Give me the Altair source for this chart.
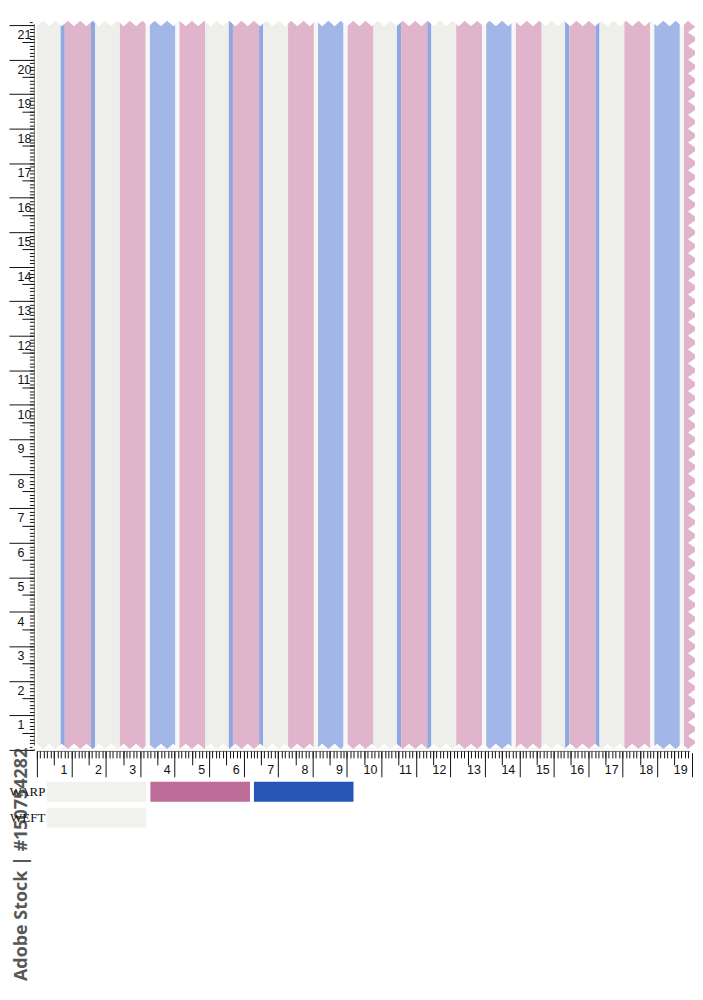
import altair as alt
import pandas as pd

# ---------------- data (centimetres) ----------------
# warp stripe sequence, left to right ("line" = thin blue pinstripe)
STRIPE_KIND = [
    "white",
    "line", "pink", "line", "white", "pink", "gap", "blue", "gap", "pink", "white",
    "line", "pink", "line", "white", "pink", "gap", "blue", "gap", "pink", "white",
    "line", "pink", "line", "white", "pink", "gap", "blue", "gap", "pink", "white",
    "line", "pink", "line", "white", "pink", "gap", "blue", "gap", "pink",
]
STRIPE_WIDTH_CM = [
    0.69,
    0.12, 0.76, 0.12, 0.72, 0.75, 0.12, 0.74, 0.12, 0.75, 0.68,
    0.12, 0.76, 0.12, 0.72, 0.75, 0.12, 0.74, 0.12, 0.75, 0.68,
    0.12, 0.76, 0.12, 0.72, 0.75, 0.12, 0.74, 0.12, 0.75, 0.68,
    0.12, 0.76, 0.12, 0.72, 0.75, 0.12, 0.74, 0.12, 0.40,
]
FABRIC_BOTTOM_CM = 0.03
FABRIC_TOP_CM = 21.12
RULER_X_MAX_CM = 19.1

X_TICKS_CM = list(range(0, 20))          # 0 .. 19
Y_TICKS_CM = list(range(0, 22))          # 0 .. 21
X_HALF_TICKS = [i + 0.5 for i in range(0, 19)]
Y_HALF_TICKS = [i + 0.5 for i in range(0, 21)]
X_MM_TICKS = [round(i / 10, 1) for i in range(0, 192)]
Y_MM_TICKS = [round(i / 10, 1) for i in range(0, 212)]

LEGEND_ROW = ["WARP", "WARP", "WARP", "WEFT"]
LEGEND_SLOT = [0, 1, 2, 0]
LEGEND_COLOR = ["#f1f2ee", "#bd6b97", "#2555b5", "#f1f2ee"]

WATERMARK = "Adobe Stock | #150754282"

# ---------------- styles ----------------
FABRIC_COLOR = {"white": "#eeeeeb", "gap": "#f7f7f5", "pink": "#e0b4cb",
                "blue": "#a2b7e7", "line": "#8fa8e2"}
FONT = "Liberation Sans"
W, H = 661, 732

edges = [0.0]
for w in STRIPE_WIDTH_CM:
    edges.append(edges[-1] + w)
stripes = pd.DataFrame({
    "x0": edges[:-1],
    "x1": edges[1:],
    "y0": FABRIC_BOTTOM_CM,
    "y1": FABRIC_TOP_CM,
    "color": [FABRIC_COLOR[k] for k in STRIPE_KIND],
})
fabric_right = edges[-1]

# pinked (zig-zag) edges of the swatch
top_teeth = pd.DataFrame({"x": [i * 0.36 for i in range(0, 54)], "y": FABRIC_TOP_CM})
bot_teeth = pd.DataFrame({"x": [i * 0.36 for i in range(0, 54)], "y": FABRIC_BOTTOM_CM})
right_teeth = pd.DataFrame({"x": fabric_right, "y": [i * 0.40 for i in range(0, 53)]})


def xs():
    return alt.Scale(domain=[0, RULER_X_MAX_CM], nice=False, zero=False)


def ys():
    return alt.Scale(domain=[0, FABRIC_TOP_CM], nice=False, zero=False)


anchor = pd.DataFrame({"x": [0.0], "y": [0.0]})


def x_axis(values, size, labels=False, domain=False):
    kw = dict(orient="bottom", values=values, tickSize=size, tickColor="#111", tickWidth=1,
              grid=False, title=None, offset=1, domain=domain, labels=labels)
    if domain:
        kw.update(domainColor="#777", domainWidth=1)
    if labels:
        kw.update(labelExpr="datum.value == 0 ? '' : datum.label", labelAlign="right",
                  labelBaseline="top", labelOffset=-4.5, labelPadding=-13, labelFont=FONT,
                  labelFontSize=12.5, labelColor="#111", labelFlush=False, labelOverlap=False)
    return alt.Axis(**kw)


def y_axis(values, size, labels=False, domain=False):
    kw = dict(orient="left", values=values, tickSize=size, tickColor="#111", tickWidth=1,
              grid=False, title=None, offset=3, domain=domain, labels=labels)
    if domain:
        kw.update(domainColor="#777", domainWidth=1)
    if labels:
        kw.update(labelExpr="datum.value == 0 ? '' : datum.label", labelAlign="left",
                  labelBaseline="top", labelOffset=3.5, labelPadding=-8, labelFont=FONT,
                  labelFontSize=12.5, labelColor="#111", labelFlush=False, labelOverlap=False)
    return alt.Axis(**kw)


cloth = alt.Chart(stripes).mark_rect(strokeWidth=0).encode(
    x=alt.X("x0:Q", scale=xs(), axis=x_axis(X_TICKS_CM, 26, labels=True, domain=True)),
    x2="x1:Q",
    y=alt.Y("y0:Q", scale=ys(), axis=y_axis(Y_TICKS_CM, 25, labels=True, domain=True)),
    y2="y1:Q",
    color=alt.Color("color:N", scale=None),
)

half_ax = alt.Chart(anchor).mark_point(opacity=0).encode(
    x=alt.X("x:Q", scale=xs(), axis=x_axis(X_HALF_TICKS, 14)),
    y=alt.Y("y:Q", scale=ys(), axis=y_axis(Y_HALF_TICKS, 12)),
)
mm_ax = alt.Chart(anchor).mark_point(opacity=0).encode(
    x=alt.X("x:Q", scale=xs(), axis=x_axis(X_MM_TICKS, 7)),
    y=alt.Y("y:Q", scale=ys(), axis=y_axis(Y_MM_TICKS, 4.5)),
)

tooth_style = dict(filled=True, color="white", opacity=1, strokeWidth=0)
top_z = alt.Chart(top_teeth).mark_point(shape="M-1,0L1,0L0,0.85Z", size=144, **tooth_style).encode(
    x=alt.X("x:Q", scale=xs(), axis=None), y=alt.Y("y:Q", scale=ys(), axis=None))
bot_z = alt.Chart(bot_teeth).mark_point(shape="M-1,0L1,0L0,-0.85Z", size=144, **tooth_style).encode(
    x=alt.X("x:Q", scale=xs(), axis=None), y=alt.Y("y:Q", scale=ys(), axis=None))
right_z = alt.Chart(right_teeth).mark_point(shape="M0,-1L0,1L-1.4,0Z", size=196, **tooth_style).encode(
    x=alt.X("x:Q", scale=xs(), axis=None), y=alt.Y("y:Q", scale=ys(), axis=None))

# yarn colour key below the ruler: its own band scales, placed under the swatch
legend_df = pd.DataFrame({"row": LEGEND_ROW, "slot": LEGEND_SLOT, "color": LEGEND_COLOR})
swatches = alt.Chart(legend_df).mark_rect(strokeWidth=0).encode(
    x=alt.X("slot:O", scale=alt.Scale(range=[10, 318], paddingInner=0.0385, paddingOuter=0),
            axis=None),
    y=alt.Y("row:N", scale=alt.Scale(domain=["WARP", "WEFT"], range=[764, 810],
                                     paddingInner=0.2308, paddingOuter=0),
            axis=alt.Axis(orient="left", title=None, ticks=False, domain=False, labelAlign="right",
                          labelPadding=-8, labelFont="Liberation Serif", labelFontSize=13,
                          labelColor="#111", labelBaseline="middle")),
    color=alt.Color("color:N", scale=None),
)
mark_txt = alt.Chart(pd.DataFrame({"t": [WATERMARK]})).mark_text(
    angle=270, align="center", baseline="middle", font="Open Sans", fontWeight="bold",
    fontSize=18, color="#3a3a3a", opacity=0.85,
).encode(text="t:N", x=alt.value(-15), y=alt.value(847))

chart = alt.layer(
    cloth, top_z, bot_z, right_z, half_ax, mm_ax, swatches, mark_txt
).resolve_scale(
    x="independent", y="independent"
).resolve_axis(
    x="independent", y="independent"
).properties(
    width=W, height=H,
    autosize=alt.AutoSizeParams(type="none"),
    padding={"left": 29, "top": 11, "right": 0, "bottom": 240},
).configure_view(stroke=None)

chart.save("out.html", embed_options={"renderer": "svg", "actions": False})
